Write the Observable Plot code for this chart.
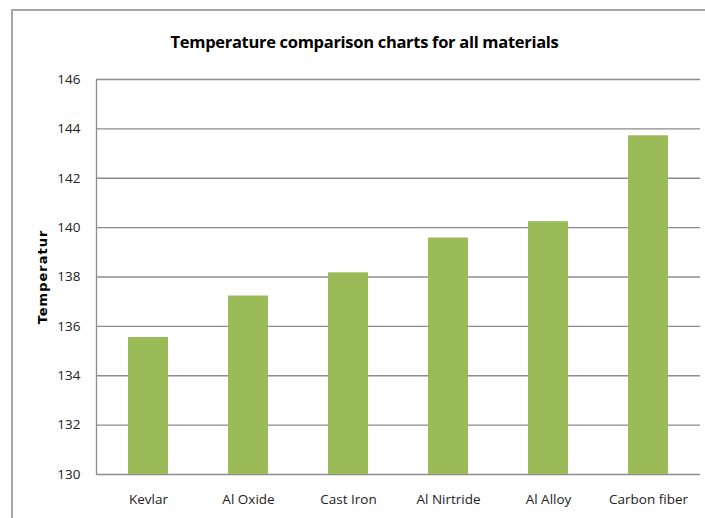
<!DOCTYPE html>
<html>
<head>
<meta charset="utf-8">
<script src="https://cdn.jsdelivr.net/npm/d3@7"></script>
<script src="https://cdn.jsdelivr.net/npm/@observablehq/plot@0.6"></script>
<style>
  body { margin: 0; background: #fff; }
  #wrap { position: relative; width: 705px; height: 518px; overflow: hidden; background: #fff; }
  #frame { position: absolute; left: 11px; top: 9px; width: 800px; height: 600px; border-top: 2px solid #a6a6a6; border-left: 2px solid #a6a6a6; }
  #title { position: absolute; left: 12px; top: 0; width: 705px; height: 60px; text-align: center; line-height: 84px;
           font-family: "Open Sans", sans-serif; font-weight: bold; font-size: 16.5px; color: #000; letter-spacing: -0.3px; }
  #ylabel { position: absolute; left: 42px; top: 277px; transform: translate(-50%, -50%) rotate(-90deg);
            font-family: "DejaVu Sans", sans-serif; font-weight: bold; font-size: 13px; letter-spacing: 1px; color: #000; white-space: nowrap; }
  #chart { position: absolute; left: 0; top: 60px; }
</style>
</head>
<body>
<div id="wrap">
  <div id="frame"></div>
  <div id="title">Temperature comparison charts for all materials</div>
  <div id="chart"></div>
  <div id="ylabel">Temperatur</div>
</div>
<script>
const materials = ["Kevlar", "Al Oxide", "Cast Iron", "Al Nirtride", "Al Alloy", "Carbon fiber"];
const temperatures = [135.55, 137.23, 138.17, 139.58, 140.24, 143.72];
const yTicks = [130, 132, 134, 136, 138, 140, 142, 144, 146];

const data = materials.map((m, i) => ({material: m, temp: temperatures[i]}));

const W = 705, H = 458, mT = 19, mB = 44, mL = 96, mR = 5;
const iw = W - mL - mR, ih = H - mT - mB;

const plot = Plot.plot({
  width: W,
  height: H,
  marginTop: mT,
  marginBottom: mB,
  marginLeft: mL,
  marginRight: mR,
  style: { fontFamily: "Open Sans, sans-serif", fontSize: "13.5px", color: "#222", background: "transparent" },
  x: { domain: materials, paddingInner: 0.6, paddingOuter: 0.3 },
  y: { domain: [130, 146] },
  marks: [
    Plot.gridY(yTicks, { stroke: "#8c8c8c", strokeOpacity: 1, strokeWidth: 1.3 }),
    Plot.barY(data, { x: "material", y1: 130, y2: "temp", fill: "#9BBB59" }),
    // frame drawn only on its left side (dash pattern skips top, right and bottom)
    Plot.frame({ stroke: "#8c8c8c", strokeWidth: 1.3, strokeDasharray: `0 ${2 * iw + ih} ${ih}` }),
    Plot.axisY(yTicks, { tickSize: 0, tickPadding: 16, label: null, fontSize: "13.5px" }),
    Plot.axisX({ tickSize: 0, tickPadding: 20, label: null, fontSize: "13.5px" })
  ]
});
document.getElementById("chart").appendChild(plot);
</script>
</body>
</html>
